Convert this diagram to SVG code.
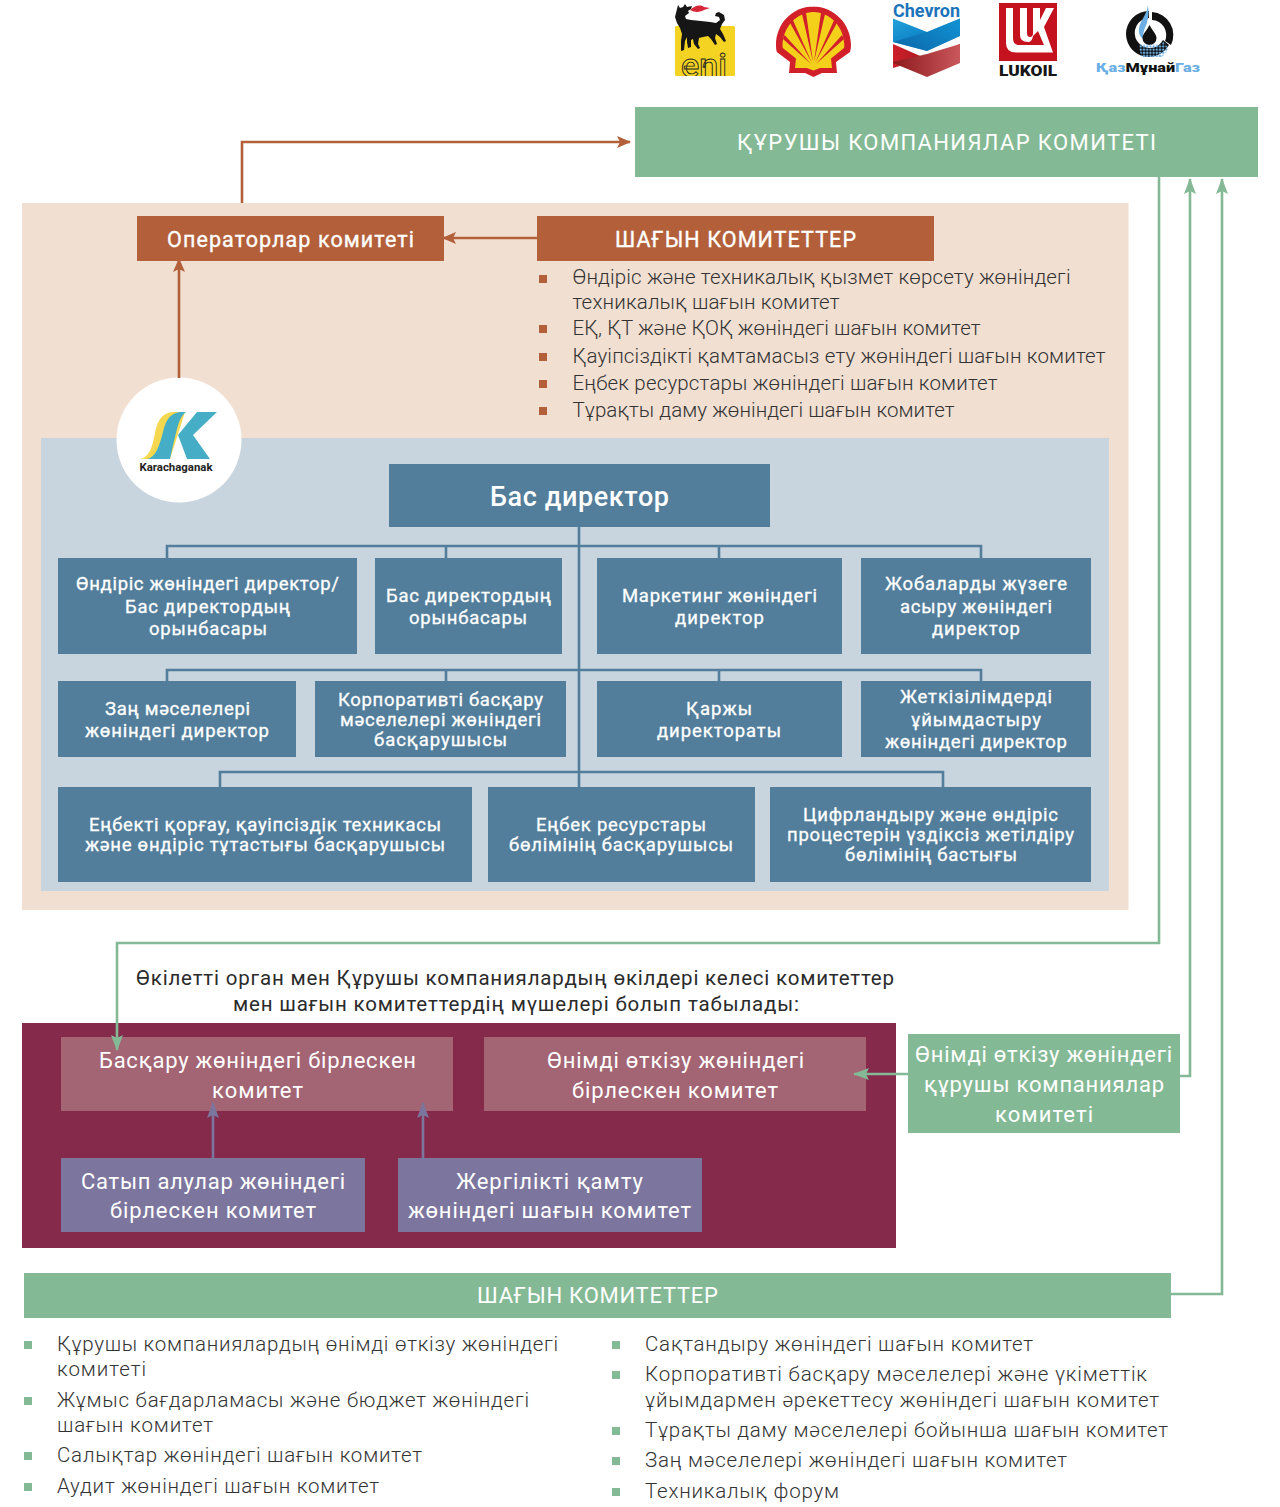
<svg xmlns="http://www.w3.org/2000/svg" width="1280" height="1507" viewBox="0 0 1280 1507">
<style>
text{font-family:Roboto,"Noto Sans",sans-serif;}
.w{fill:#fff;font-weight:400;stroke:#fff;stroke-width:.35px;}
.l{fill:#333;font-size:20.5px;font-weight:300;}
.b{fill:#fff;font-size:18.5px;font-weight:400;stroke:#fff;stroke-width:.3px;}
.c{fill:#fff;font-size:22px;font-weight:400;}
.br{fill:#b35f3a;}
.gr{fill:#84b995;}
.st{fill:#527e9b;}
.cn{fill:#a36473;}
.pu{fill:#7c759d;}
.lb{fill:none;stroke:#b35f3a;stroke-width:2.6;}
.lg{fill:none;stroke:#84b995;stroke-width:2.6;}
.lp{fill:none;stroke:#7c759d;stroke-width:2.6;}
.ls{fill:none;stroke:#527e9b;stroke-width:2.6;}
</style>
<defs>
<marker id="ab" viewBox="0 0 14 14" refX="13" refY="7" markerWidth="14" markerHeight="14" markerUnits="userSpaceOnUse" orient="auto"><path d="M0 1 L14 7 L0 13 L3 7Z" fill="#b35f3a"/></marker>
<marker id="ag" viewBox="0 0 16 14" refX="15" refY="7" markerWidth="16" markerHeight="14" markerUnits="userSpaceOnUse" orient="auto"><path d="M0 1 L16 7 L0 13 L3 7Z" fill="#84b995"/></marker>
<marker id="ap" viewBox="0 0 16 14" refX="15" refY="7" markerWidth="16" markerHeight="14" markerUnits="userSpaceOnUse" orient="auto"><path d="M0 1 L16 7 L0 13 L3 7Z" fill="#7c759d"/></marker>
<linearGradient id="cb" x1="0" y1="0" x2="1" y2="1"><stop offset="0" stop-color="#27a3dc"/><stop offset=".55" stop-color="#0a7fc4"/><stop offset="1" stop-color="#0b5a9e"/></linearGradient>
<linearGradient id="cb2" x1="0" y1="0" x2="1" y2="0"><stop offset="0" stop-color="#0a4f8f"/><stop offset="1" stop-color="#15a0de"/></linearGradient>
<linearGradient id="cr" x1="0" y1="0" x2="1" y2="0"><stop offset="0" stop-color="#cc1f2b"/><stop offset="1" stop-color="#8c1214"/></linearGradient>
<linearGradient id="cr2" x1="0" y1="0" x2="1" y2="0"><stop offset="0" stop-color="#8c1a1d"/><stop offset="1" stop-color="#c9575b"/></linearGradient>
<pattern id="dots" width="3.2" height="3.2" patternUnits="userSpaceOnUse"><circle cx="1.6" cy="1.6" r="1.2" fill="#6aaee3"/></pattern>
<clipPath id="eniclip"><rect x="675" y="26" width="60" height="50" rx="1.500"/></clipPath>
</defs>
<rect width="1280" height="1507" fill="#fff"/>
<rect id="panel-operator" x="22" y="203" width="1106.500" height="707" fill="#f1dfd2"/>
<rect id="panel-company" x="41" y="438" width="1068" height="453" fill="#c8d4de"/>
<rect id="panel-joint" x="22" y="1023" width="874" height="225" fill="#862a4b"/>

<g id="logo-eni">
<rect x="675" y="26" width="60" height="50" rx="1.500" fill="#f5d322"/>
<path d="M678 5l2 3 3-1 2-3 2 3 5-1-1 3-3 2 1 2-4 3 1 3 5 1 10 1 9 1 6 1 4-3-1-3-4-1 1-3 3-1 5 3 1 5-3 4-2 5 3 5 3 7-2 1-4-5-4-3-1 4 2 6-2 1-4-6-3-3-5 1-4 1-1 6 2 4-2 1-4-5-1-5-2 1 0 7-3 1-1-6 0-5-2 4-1 9-3 1 0-10 1-7-2-6-3-5-2-6 1-4z" fill="#161616"/>
<path d="M690 10c4-4 10-6 14-3l6 1-6 2c-3 2-9 3-14 0z" fill="#d6263a"/>
<g clip-path="url(#eniclip)"><text x="681" y="77" font-size="34" textLength="46" lengthAdjust="spacingAndGlyphs" fill="none" stroke="#222" stroke-width=".9" font-weight="500">eni</text></g>
</g>
<g id="logo-shell">
<path d="M813.500 6.500C792 6.500 776 24 776 45c0 3 .3 5 .8 7L790 62l-1 11h16l8.500 4 8.500-4h15l-1-11 14-10c.5-2 1-4 1-7 0-21-17-38.500-38-38.500z" fill="#d1202a"/>
<path d="M813.500 12C797 12 783 27 782.500 45c0 1 .1 2 .3 3L796 58.500 795 68h12l6.500 2.500L820 68h12l-1-9.500L844 48c.2-1 .3-2 .3-3C844 27 830 12 813.500 12z" fill="#f4d01b"/>
<path d="M813 62L806 12.500 802 14ZM814 62L821 12.500 825 14ZM812 63L792 18 789 21ZM815 63L835 18 838 21ZM811 64L784.500 35 783 39ZM816 64L842 35 844 39Z" fill="#d1202a"/>
</g>
<g id="logo-chevron">
<text x="893" y="16.500" font-size="18" font-weight="700" textLength="67" lengthAdjust="spacingAndGlyphs" fill="#1b74ba">Chevron</text>
<path d="M893 18.500L927 32 960 18.500V36L927 51 893 42Z" fill="url(#cb)"/>
<path d="M893 42L927 32 960 18.500V36L927 51Z" fill="url(#cb2)" opacity=".55"/>
<path d="M893 44L927 59 960 44V54L927 58 893 68Z" fill="url(#cr)"/>
<path d="M893 62L927 54 960 44V63L927 77 893 63Z" fill="url(#cr2)"/>
</g>
<g id="logo-lukoil">
<rect x="999" y="3" width="58" height="58" fill="#c4131f"/>
<path d="M1006 8H1013V38Q1013 45 1019 45H1044L1038 31 1033 36Q1032 42 1028 42 1020 42 1020 35V8H1027V33Q1027 37 1030 37 1033 37 1033 33V8H1040V20L1046 8H1054L1044 27 1053 52.500H1016Q1006 52.500 1006 43Z" fill="#fff"/>
<text x="999" y="76" font-size="15" font-weight="900" textLength="58" lengthAdjust="spacingAndGlyphs" fill="#161616">LUKOIL</text>
</g>
<g id="logo-kmg">
<path d="M1149 11a23 23 0 1 0 0 46a23 23 0 0 0 20-12l-6-5a15 15 0 1 1-14-22z" fill="#111"/>
<path d="M1152 12a23 23 0 0 1 19 33l-6-4a15 15 0 0 0-13-21z" fill="#111"/>
<path d="M1147 4c3 8-9 17-8 28 0 3 2 5 4 7 0-8 2-11 4-16 1-6 3-11 0-19z" fill="#6aaee3"/>
<path d="M1149.500 25c3 6 7 9 7 13a7 7 0 0 1-14 0c0-4 4-7 7-13z" fill="#111"/>
<path d="M1139 44h23l1-3 6 8-7 8h-20l-3-8z" fill="url(#dots)"/>
<text x="1096" y="71.500" font-size="13.500" font-weight="900" textLength="104" lengthAdjust="spacingAndGlyphs" fill="#6aaee3">Қаз<tspan fill="#111">Мұнай</tspan>Газ</text>
</g>

<g id="n-founders"><rect class="gr" x="635" y="107" width="623" height="70"/><text class="c" x="737" y="150" textLength="419">ҚҰРУШЫ КОМПАНИЯЛАР КОМИТЕТІ</text></g>
<g id="n-operators"><rect class="br" x="137" y="216" width="307" height="45"/><text class="w" x="167" y="247" font-size="21.500" textLength="247">Операторлар комитеті</text></g>
<g id="n-subcommittees1"><rect class="br" x="537" y="216" width="397" height="45"/><text class="w" x="615" y="247" font-size="21.500" textLength="241">ШАҒЫН КОМИТЕТТЕР</text></g>
<g id="list-sub1" fill="#b35f3a">
<rect x="539" y="275" width="8" height="8"/><rect x="539" y="325" width="8" height="8"/><rect x="539" y="353" width="8" height="8"/><rect x="539" y="380" width="8" height="8"/><rect x="539" y="407" width="8" height="8"/>
<text class="l" x="572.500" y="284" textLength="498">Өндіріс және техникалық қызмет көрсету жөніндегі</text>
<text class="l" x="572.500" y="309" textLength="267">техникалық шағын комитет</text>
<text class="l" x="572.500" y="335" textLength="408">ЕҚ, ҚТ және ҚОҚ жөніндегі шағын комитет</text>
<text class="l" x="572.500" y="363" textLength="533">Қауіпсіздікті қамтамасыз ету жөніндегі шағын комитет</text>
<text class="l" x="572.500" y="390" textLength="425">Еңбек ресурстары жөніндегі шағын комитет</text>
<text class="l" x="572.500" y="417" textLength="382">Тұрақты даму жөніндегі шағын комитет</text>
</g>
<g id="logo-karachaganak">
<circle cx="179" cy="440" r="62.500" fill="#fff"/>
<path d="M140 459C150 457 152 447 155 433 158 420 162 412 175 412H185L170 459Z" fill="#f5d84f"/>
<path d="M147 459C156 457 159 447 163 432 166 420 170 412 183 412H186C180 416 178 425 175 437 172 449 171 455 170 459Z" fill="#45aec6"/>
<path d="M197 412H217L193 435 210 459H187L178 435Z" fill="#45aec6"/>
<text x="139.500" y="471" font-size="11.500" font-weight="700" textLength="73" lengthAdjust="spacingAndGlyphs" fill="#222">Karachaganak</text>
</g>

<g id="n-ceo"><rect class="st" x="389" y="464" width="381" height="63"/><text x="490" y="506" font-size="27" font-weight="500" fill="#fff" textLength="179">Бас директор</text></g>
<g id="n-r1a"><rect class="st" x="58" y="558" width="299" height="96"/><text class="b" x="76" y="590" textLength="263">Өндіріс жөніндегі директор/</text><text class="b" x="125" y="613" textLength="165">Бас директордың</text><text class="b" x="149" y="635" textLength="118">орынбасары</text></g>
<g id="n-r1b"><rect class="st" x="375" y="558" width="187" height="96"/><text class="b" x="386" y="602" textLength="165">Бас директордың</text><text class="b" x="409" y="624" textLength="118">орынбасары</text></g>
<g id="n-r1c"><rect class="st" x="597" y="558" width="245" height="96"/><text class="b" x="622" y="602" textLength="195">Маркетинг жөніндегі</text><text class="b" x="675" y="624" textLength="89">директор</text></g>
<g id="n-r1d"><rect class="st" x="861" y="558" width="230" height="96"/><text class="b" x="885" y="590" textLength="182">Жобаларды жүзеге</text><text class="b" x="900" y="613" textLength="152">асыру жөніндегі</text><text class="b" x="932" y="635" textLength="88">директор</text></g>
<g id="n-r2a"><rect class="st" x="58" y="681" width="238" height="76"/><text class="b" x="105" y="715" textLength="145">Заң мәселелері</text><text class="b" x="85" y="737" textLength="184">жөніндегі директор</text></g>
<g id="n-r2b"><rect class="st" x="315" y="681" width="251" height="76"/><text class="b" x="338" y="706" textLength="205">Корпоративті басқару</text><text class="b" x="340" y="726" textLength="201">мәселелері жөніндегі</text><text class="b" x="374" y="746" textLength="133">басқарушысы</text></g>
<g id="n-r2c"><rect class="st" x="597" y="681" width="245" height="76"/><text class="b" x="686" y="715" textLength="66">Қаржы</text><text class="b" x="657" y="737" textLength="124">директораты</text></g>
<g id="n-r2d"><rect class="st" x="861" y="681" width="230" height="76"/><text class="b" x="900" y="703" textLength="152">Жеткізілімдерді</text><text class="b" x="911" y="726" textLength="130">ұйымдастыру</text><text class="b" x="885" y="748" textLength="182">жөніндегі директор</text></g>
<g id="n-r3a"><rect class="st" x="58" y="787" width="414" height="95"/><text class="b" x="89" y="831" textLength="352">Еңбекті қорғау, қауіпсіздік техникасы</text><text class="b" x="85" y="851" textLength="360">және өндіріс тұтастығы басқарушысы</text></g>
<g id="n-r3b"><rect class="st" x="488" y="787" width="267" height="95"/><text class="b" x="536" y="831" textLength="170">Еңбек ресурстары</text><text class="b" x="509" y="851" textLength="224">бөлімінің басқарушысы</text></g>
<g id="n-r3c"><rect class="st" x="770" y="787" width="321" height="95"/><text class="b" x="803" y="821" textLength="255">Цифрландыру және өндіріс</text><text class="b" x="787" y="841" textLength="287">процестерін үздіксіз жетілдіру</text><text class="b" x="845" y="861" textLength="172">бөлімінің бастығы</text></g>

<text x="136" y="985" font-size="20.500" fill="#2b2b2b" textLength="758">Өкілетті орган мен Құрушы компаниялардың өкілдері келесі комитеттер</text>
<text x="233" y="1011" font-size="20.500" fill="#2b2b2b" textLength="566">мен шағын комитеттердің мүшелері болып табылады:</text>

<g id="n-mgmt"><rect class="cn" x="61" y="1037" width="392" height="74"/><text class="c" x="99" y="1068" textLength="317">Басқару жөніндегі бірлескен</text><text class="c" x="212" y="1098" textLength="91">комитет</text></g>
<g id="n-marketing"><rect class="cn" x="484" y="1037" width="382" height="74"/><text class="c" x="547" y="1068" textLength="257">Өнімді өткізу жөніндегі</text><text class="c" x="572" y="1098" textLength="206">бірлескен комитет</text></g>
<g id="n-procure"><rect class="pu" x="61" y="1158" width="304" height="74"/><text class="c" x="81" y="1189" textLength="264">Сатып алулар жөніндегі</text><text class="c" x="110" y="1218" textLength="206">бірлескен комитет</text></g>
<g id="n-local"><rect class="pu" x="398" y="1158" width="304" height="74"/><text class="c" x="456" y="1189" textLength="187">Жергілікті қамту</text><text class="c" x="408" y="1218" textLength="283">жөніндегі шағын комитет</text></g>
<g id="n-fmc"><rect class="gr" x="908" y="1034" width="272" height="99"/><text class="c" x="915" y="1062" textLength="257">Өнімді өткізу жөніндегі</text><text class="c" x="924" y="1092" textLength="240">құрушы компаниялар</text><text class="c" x="995" y="1122" textLength="98">комитеті</text></g>
<g id="n-subcommittees2"><rect class="gr" x="24" y="1273" width="1147" height="45"/><text class="c" x="477" y="1303" textLength="241">ШАҒЫН КОМИТЕТТЕР</text></g>

<g id="list-sub2" fill="#84b995">
<rect x="24" y="1341" width="8" height="8"/><rect x="24" y="1397" width="8" height="8"/><rect x="24" y="1452" width="8" height="8"/><rect x="24" y="1483" width="8" height="8"/>
<rect x="612" y="1341" width="8" height="8"/><rect x="612" y="1371" width="8" height="8"/><rect x="612" y="1427" width="8" height="8"/><rect x="612" y="1457" width="8" height="8"/><rect x="612" y="1488" width="8" height="8"/>
<text class="l" x="57" y="1351" textLength="501">Құрушы компаниялардың өнімді өткізу жөніндегі</text>
<text class="l" x="57" y="1376" textLength="89">комитеті</text>
<text class="l" x="57" y="1407" textLength="472">Жұмыс бағдарламасы және бюджет жөніндегі</text>
<text class="l" x="57" y="1432" textLength="156">шағын комитет</text>
<text class="l" x="57" y="1462" textLength="365">Салықтар жөніндегі шағын комитет</text>
<text class="l" x="57" y="1493" textLength="322">Аудит жөніндегі шағын комитет</text>
<text class="l" x="645" y="1351" textLength="388">Сақтандыру жөніндегі шағын комитет</text>
<text class="l" x="645" y="1381" textLength="502">Корпоративті басқару мәселелері және үкіметтік</text>
<text class="l" x="645" y="1407" textLength="514">ұйымдармен әрекеттесу жөніндегі шағын комитет</text>
<text class="l" x="645" y="1437" textLength="523">Тұрақты даму мәселелері бойынша шағын комитет</text>
<text class="l" x="645" y="1467" textLength="422">Заң мәселелері жөніндегі шағын комитет</text>
<text class="l" x="645" y="1498" textLength="194">Техникалық форум</text>
</g>

<g id="connectors">
<path class="lb" d="M242 203V142H630" marker-end="url(#ab)"/>
<path class="lb" d="M537 238H443" marker-end="url(#ab)"/>
<path class="lb" d="M179 378V259" marker-end="url(#ab)"/>
<path class="ls" d="M579 527V787M167 558V546H981V558M446 546V558M719 546V558M167 681V670H981V681M446 670V681M719 670V681M220 787V772H943V787"/>
<path class="lg" d="M1159 177V943H117V1050" marker-end="url(#ag)"/>
<path class="lg" d="M1180 1076H1190V179" marker-end="url(#ag)"/>
<path class="lg" d="M1171 1294H1222V179" marker-end="url(#ag)"/>
<path class="lg" d="M908 1074H854" marker-end="url(#ag)"/>
<path class="lp" d="M213 1158V1103" marker-end="url(#ap)"/>
<path class="lp" d="M423 1158V1103" marker-end="url(#ap)"/>
</g>
</svg>
